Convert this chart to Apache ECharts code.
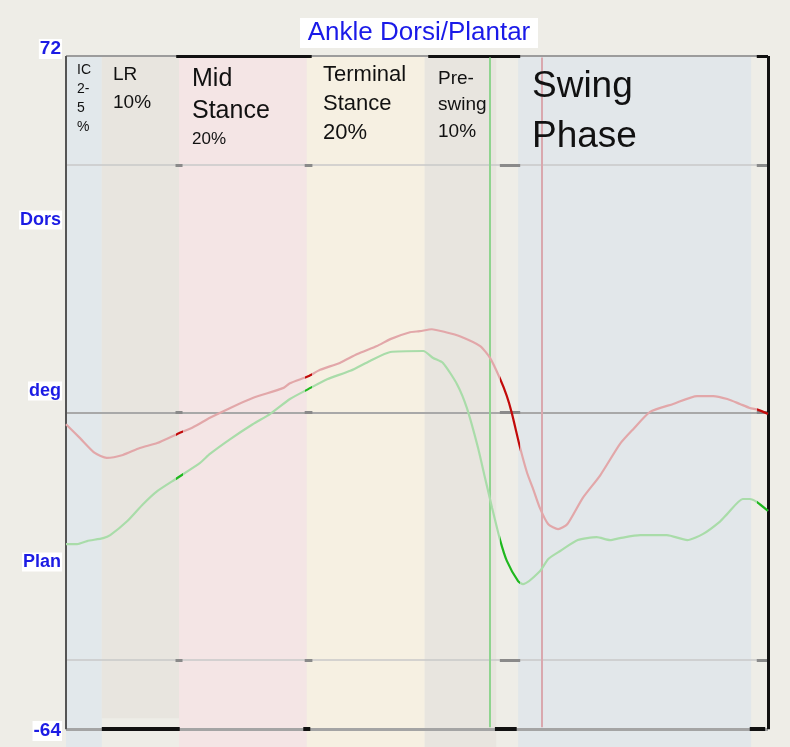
<!DOCTYPE html>
<html>
<head>
<meta charset="utf-8">
<title>Ankle Dorsi/Plantar</title>
<script src="https://cdn.jsdelivr.net/npm/echarts@6/dist/echarts.min.js"></script>
<style>
  html, body { margin: 0; padding: 0; background: #eeede7; }
  #chart { width: 790px; height: 747px; }
</style>
</head>
<body>
<div id="chart"></div>
<script>
// ---- data -------------------------------------------------------------
// Gait cycle phases, as % of the cycle
const phaseLabels = ['IC\n2-\n5\n%', 'LR\n10%', 'Mid\nStance\n20%', 'Terminal\nStance\n20%', 'Pre-\nswing\n10%', 'Swing\nPhase'];
const phaseBounds = [[0, 5.1], [5.1, 16.1], [16.1, 34.3], [34.3, 51.1], [51.1, 61.3], [64.4, 97.6]];

// Ankle angle [gait %, degrees] (positive = dorsiflexion)
const leftAnkle = [
  [0, -2.4], [2.0, -5.2], [4.1, -8.2], [5.8, -9.2], [8.1, -8.6], [10.5, -7.2], [13.0, -6.2],
  [15.8, -4.4], [18.1, -3.0], [20.5, -1.1], [23.4, 0.9], [26.6, 2.9], [30.9, 4.9], [31.9, 5.9],
  [34.5, 7.3], [36.2, 8.6], [39.0, 10.0], [41.5, 11.8], [44.3, 13.4], [46.2, 14.8], [49.0, 16.2],
  [50.4, 16.4], [52.1, 16.8], [54.1, 16.2], [56.1, 15.4], [59.0, 13.4], [60.4, 11.0], [61.8, 6.9],
  [62.8, 3.3], [63.5, -0.1], [64.7, -7.2], [65.7, -12.3], [66.5, -15.3], [67.5, -19.3], [68.7, -22.6],
  [70.1, -23.6], [71.4, -22.6], [73.6, -17.3], [76.1, -12.7], [78.9, -6.4], [80.8, -3.4], [83.2, 0.1],
  [86.5, 1.7], [89.9, 3.3], [92.2, 3.3], [94.2, 2.7], [96.0, 1.7], [97.4, 0.9], [98.6, 0.5], [100, -0.3]
];
const rightAnkle = [
  [0, -26.6], [1.6, -26.6], [3.0, -26.0], [5.3, -25.4], [6.3, -24.8], [8.7, -22.0], [11.0, -18.5],
  [13.0, -15.9], [15.8, -13.3], [19.1, -10.2], [20.5, -8.4], [23.4, -5.4], [26.6, -2.4], [29.1, -0.3],
  [31.9, 2.7], [34.5, 4.7], [37.2, 6.7], [40.5, 8.4], [43.3, 10.4], [46.2, 12.2], [50.9, 12.4],
  [52.3, 11.0], [53.7, 10.0], [55.7, 5.7], [57.1, 0.9], [58.7, -7.2], [59.7, -13.3], [60.7, -19.3],
  [61.8, -25.6], [62.8, -30.0], [64.4, -34.1], [65.1, -34.7], [67.5, -32.1], [68.7, -29.6], [70.4, -28.0],
  [72.9, -25.8], [75.6, -25.2], [77.5, -25.8], [78.9, -25.4], [81.8, -24.8], [85.6, -24.8], [88.5, -25.8],
  [90.7, -24.6], [93.2, -22.0], [94.2, -20.5], [96.4, -17.5], [97.4, -17.5], [98.4, -18.1], [100, -19.9]
];

// Foot-off events (% of cycle)
const footOffRight = 60.3;
const footOffLeft = 67.8;

// Gait event windows highlighted on the curves and grid lines
const eventWindows = [[15.6, 16.6], [34.0, 35.1], [61.8, 64.7], [98.4, 100]];
// Highlighted pieces of the top and bottom frame
const topFrameMarks = [[15.7, 35.0], [51.6, 64.7], [98.4, 100]];
const bottomFrameMarks = [[5.1, 16.2], [33.8, 34.8], [61.1, 64.2], [97.4, 99.6]];

// Axis range and reference lines (degrees)
const yTop = 72;
const yBottom = -64;
const gridValues = [50, 0, -50];
const yLabels = ['72', 'Dors', 'deg', 'Plan', '-64'];

// ---- styling ----------------------------------------------------------
const FONT = '"Liberation Sans", Arial, Helvetica, sans-serif';
const Y_MIN = -67.6;          // axis extends a little below the frame so the bands reach the bottom edge
const bandColors = ['#e2e8eb', '#e8e5df', '#f4e5e5', '#f6f0e2', '#e8e5df', '#e2e7ea'];
const LABEL_BLUE = '#1c1ce4';

const chart = echarts.init(document.getElementById('chart'), null, { renderer: 'canvas' });

const seg = (a, b, y, style) => [
  { coord: [a, y], lineStyle: style },
  { coord: [b, y] }
];
const vseg = (x, y1, y2, style) => [
  { coord: [x, y1], lineStyle: style },
  { coord: [x, y2] }
];

const gridStyle = v => v === 0
  ? { color: '#a8a8a8', width: 2, type: 'solid' }
  : { color: '#c9c9c9', width: 1.5, type: 'solid' };

const frameLines = [];
gridValues.forEach(v => {
  frameLines.push(seg(0, 100, v, gridStyle(v)));
  eventWindows.forEach(w => frameLines.push(seg(w[0], w[1], v, { color: '#8a8a8a', width: 3, type: 'solid' })));
});
frameLines.push(seg(0, 100, yTop, { color: '#9c9c9c', width: 2, type: 'solid' }));
frameLines.push(seg(0, 100, yBottom, { color: '#a4a4a4', width: 3, type: 'solid' }));
topFrameMarks.forEach(w => frameLines.push(seg(w[0], w[1], yTop, { color: '#111', width: 3, type: 'solid' })));
bottomFrameMarks.forEach(w => frameLines.push(seg(w[0], w[1], yBottom, { color: '#111', width: 4, type: 'solid' })));
frameLines.push(vseg(0, yTop, yBottom, { color: '#555', width: 2, type: 'solid' }));
frameLines.push(vseg(100, yTop, yBottom, { color: '#111', width: 3, type: 'solid' }));

const eventLines = [
  vseg(footOffRight, yTop - 0.3, yBottom + 0.4, { color: '#8fd48f', width: 2, type: 'solid' }),
  vseg(footOffLeft, yTop - 0.3, yBottom + 0.4, { color: '#d9a8ae', width: 2, type: 'solid' })
];

const bands = phaseBounds.map((b, i) => [
  { xAxis: b[0], yAxis: yTop, itemStyle: { color: bandColors[i] } },
  { xAxis: b[1], yAxis: i === 1 ? -61.8 : Y_MIN }
]);

const phaseTextLayout = [
  { x: 77, y: 60, size: 14, lh: 19.3 },
  { x: 113, y: 61, size: 19, lh: 28 },
  { x: 192, y: 63 },
  { x: 323, y: 60, size: 22, lh: 29 },
  { x: 438, y: 65, size: 19, lh: 26.7 },
  { x: 532, y: 62, size: 37, lh: 50 }
];

const phaseGraphics = phaseLabels.map((t, i) => {
  const p = phaseTextLayout[i];
  if (i === 2) {
    const parts = t.split('\n');
    return {
      type: 'text', x: p.x, y: p.y, z: 10,
      style: {
        text: `{a|${parts[0]}}\n{a|${parts[1]}}\n{b|${parts[2]}}`,
        fill: '#111', fontFamily: FONT,
        rich: {
          a: { fontSize: 25, lineHeight: 32, fontFamily: FONT, fill: '#111' },
          b: { fontSize: 17, lineHeight: 24, fontFamily: FONT, fill: '#111' }
        }
      }
    };
  }
  return {
    type: 'text', x: p.x, y: p.y, z: 10,
    style: { text: t, fill: '#111', fontFamily: FONT, fontSize: p.size, lineHeight: p.lh }
  };
});

const yLabelPos = [
  { y: 49, size: 19 }, { y: 220, size: 18 }, { y: 391, size: 18 }, { y: 562, size: 18 }, { y: 731, size: 19 }
];
const yLabelGraphics = yLabels.map((t, i) => ({
  type: 'text', x: 62, y: yLabelPos[i].y, z: 10,
  style: {
    text: t, fill: LABEL_BLUE, fontFamily: FONT, fontWeight: 'bold', fontSize: yLabelPos[i].size,
    align: 'right', verticalAlign: 'middle', backgroundColor: '#ffffff', padding: [1, 1, 0, 1]
  }
}));

chart.setOption({
  animation: false,
  backgroundColor: '#eeede7',
  grid: { left: 66, right: 22, top: 56, bottom: 0, containLabel: false },
  xAxis: {
    type: 'value', min: 0, max: 100,
    axisLine: { show: false }, axisTick: { show: false }, axisLabel: { show: false }, splitLine: { show: false }
  },
  yAxis: {
    type: 'value', min: Y_MIN, max: yTop,
    axisLine: { show: false }, axisTick: { show: false }, axisLabel: { show: false }, splitLine: { show: false }
  },
  visualMap: [
    {
      type: 'piecewise', show: false, seriesIndex: 3, dimension: 0,
      pieces: eventWindows.map(w => ({ gte: w[0], lte: w[1], color: '#c20a0a' })),
      outOfRange: { color: '#e2a7a9' }
    },
    {
      type: 'piecewise', show: false, seriesIndex: 4, dimension: 0,
      pieces: eventWindows.map(w => ({ gte: w[0], lte: w[1], color: '#1fb81f' })),
      outOfRange: { color: '#a9dca9' }
    }
  ],
  series: [
    {
      name: 'phases', type: 'line', data: [], z: 1, silent: true,
      markArea: { silent: true, label: { show: false }, data: bands }
    },
    {
      name: 'frame', type: 'line', data: [], z: 2, silent: true,
      markLine: { silent: true, symbol: ['none', 'none'], label: { show: false }, data: frameLines }
    },
    {
      name: 'foot off', type: 'line', data: [], z: 3, silent: true,
      markLine: { silent: true, symbol: ['none', 'none'], label: { show: false }, data: eventLines }
    },
    {
      name: 'Left', type: 'line', data: leftAnkle, z: 5, showSymbol: false, smooth: 0.2,
      lineStyle: { width: 2.2 }
    },
    {
      name: 'Right', type: 'line', data: rightAnkle, z: 5, showSymbol: false, smooth: 0.2,
      lineStyle: { width: 2.2 }
    }
  ],
  graphic: [
    { type: 'rect', shape: { x: 300, y: 18, width: 238, height: 30 }, style: { fill: '#ffffff' }, z: 9 },
    {
      type: 'text', x: 419, y: 33, z: 10,
      style: { text: 'Ankle Dorsi/Plantar', fill: '#1a1ae8', fontFamily: FONT, fontSize: 26, align: 'center', verticalAlign: 'middle' }
    },
    ...phaseGraphics,
    ...yLabelGraphics
  ]
});
</script>
</body>
</html>
